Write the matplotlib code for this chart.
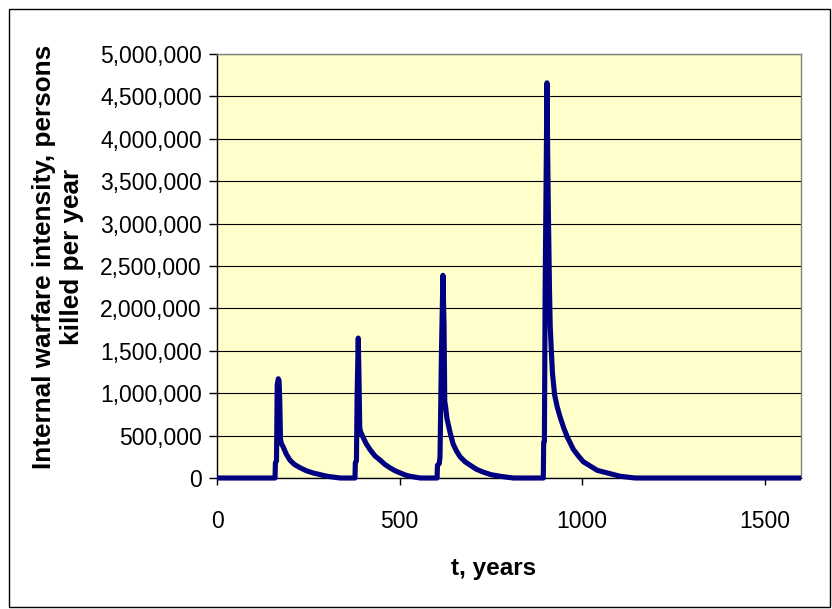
import matplotlib.pyplot as plt
from matplotlib.patches import Rectangle
from matplotlib.ticker import FuncFormatter

# years and internal warfare intensity (persons killed per year)
years = [0, 159, 160, 163, 165, 168, 170, 172, 174, 177, 181, 190, 200, 212, 228, 245, 263, 282, 302, 320, 337,
         378, 379, 382, 384, 387, 389, 391, 393, 398, 408, 420, 433, 447, 460, 474, 488, 502, 516, 529, 557,
         603, 604, 609, 611, 615, 619, 622, 624, 626, 630, 639, 647, 656, 666, 680, 694, 710, 729, 750, 776, 812,
         894, 895, 897, 899, 904, 906, 908, 911, 913, 916, 919, 925, 932, 940, 950, 960, 976, 990, 1004, 1042,
         1078, 1105, 1146, 1600]
intensity = [0, 0, 180000, 200000, 1100000, 1170000, 1150000, 900000, 450000, 400000, 370000, 280000, 210000,
             160000, 120000, 85000, 60000, 40000, 20000, 10000, 0,
             0, 180000, 200000, 1000000, 1650000, 1200000, 600000, 550000, 500000, 410000, 330000, 260000,
             210000, 160000, 120000, 85000, 60000, 35000, 20000, 0,
             0, 150000, 170000, 250000, 1500000, 2390000, 1800000, 900000, 850000, 700000, 530000, 400000,
             320000, 250000, 190000, 150000, 105000, 70000, 40000, 20000, 0,
             0, 420000, 430000, 2200000, 4660000, 3800000, 3100000, 2200000, 1780000, 1500000, 1240000,
             980000, 840000, 720000, 590000, 480000, 340000, 260000, 190000, 90000,
             50000, 20000, 0, 0]

W, H = 832, 609
fig = plt.figure(figsize=(W / 100, H / 100), dpi=100)
plt.rcParams['font.family'] = ['Liberation Sans', 'DejaVu Sans']

# outer chart border
fig.patches.append(Rectangle((9 / W, 2 / H), 821 / W, 598 / H, transform=fig.transFigure,
                             fill=False, edgecolor='black', linewidth=1))

ax = fig.add_axes([217 / W, (H - 478) / H, 584 / W, 424 / H])
ax.set_facecolor('#FFFFCC')

ax.plot(years, intensity, color='#000080', linewidth=3.7, solid_joinstyle='round',
        solid_capstyle='butt', zorder=3, clip_on=False)

ax.set_xlim(0, 1600)
ax.set_ylim(0, 5000000)
ax.set_xticks([0, 500, 1000, 1500])
ax.set_yticks(range(0, 5000001, 500000))
ax.yaxis.set_major_formatter(FuncFormatter(lambda v, p: f'{int(v):,}'))

ax.grid(axis='y', color='black', linewidth=0.8)
ax.set_axisbelow(True)

for s in ['top', 'right']:
    ax.spines[s].set_color('#808080')
for s in ['left', 'bottom']:
    ax.spines[s].set_color('black')
for s in ax.spines.values():
    s.set_linewidth(1)

ax.tick_params(axis='y', direction='out', length=6, width=1, labelsize=16.5, pad=5)
ax.tick_params(axis='x', direction='out', length=5, width=1, labelsize=16.5, pad=18)

fig.text(494 / W, (H - 568) / H, 't, years', ha='center', va='center',
         fontsize=17.5, fontweight='bold')
fig.text(58 / W, (H - 257) / H, 'Internal warfare intensity, persons\nkilled per year',
         ha='center', va='center', rotation=90, multialignment='center',
         fontsize=18.8, fontweight='bold', linespacing=1.25)

fig.savefig('out.png', dpi=100)
